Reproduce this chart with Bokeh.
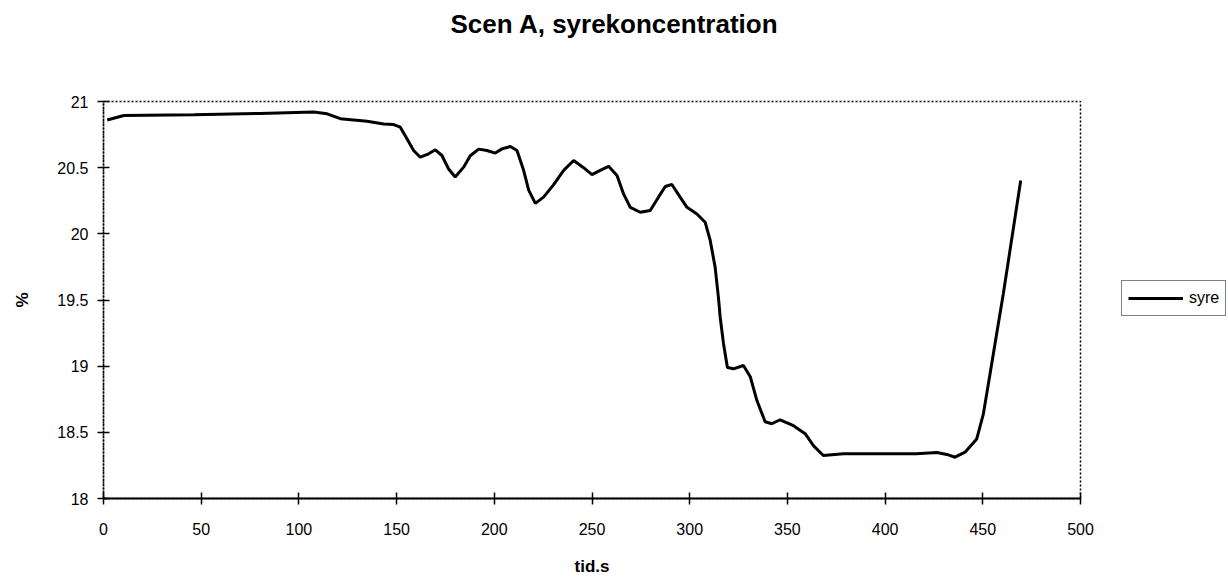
from bokeh.plotting import figure
from bokeh.models import Legend, LegendItem, Range1d, FixedTicker, Title
from bokeh.layouts import row
from bokeh.embed import file_html
from bokeh.resources import INLINE

# Data (time in s, O2 concentration in %)
tid = [1.9, 10.4, 46.2, 80, 107.6, 114.4, 121.2, 134.9, 143.4, 148.5, 151.9, 155.3, 158.7,
       162.1, 166.4, 169.8, 173.2, 176.6, 180.0, 184.3, 187.7, 192.0, 196.2, 200.5, 203.9,
       208.2, 211.6, 215.0, 217.6, 221.0, 225.2, 230.3, 235.5, 240.6, 245.7, 250.0, 254.2,
       258.5, 262.8, 266.2, 269.6, 274.7, 279.8, 284.0, 287.5, 290.9, 295.1, 298.6, 303.7,
       307.9, 310.5, 313.0, 314.7, 315.6, 317.3, 319.3, 322.4, 327.5, 331.0, 334.4, 338.6,
       342.0, 346.3, 353.1, 359.1, 363.3, 368.4, 378.7, 399.0, 416.0, 426.5, 431.6, 435.8,
       440.9, 446.9, 450.3, 453.7, 457.1, 460.5, 463.9, 469.4]
syre = [20.86, 20.894, 20.90, 20.91, 20.92, 20.907, 20.87, 20.85, 20.83, 20.826, 20.806, 20.718, 20.63,
        20.579, 20.605, 20.635, 20.592, 20.49, 20.43, 20.504, 20.59, 20.64, 20.63, 20.61, 20.642,
        20.66, 20.63, 20.48, 20.33, 20.23, 20.277, 20.37, 20.48, 20.554, 20.50, 20.448, 20.48,
        20.51, 20.44, 20.30, 20.20, 20.163, 20.176, 20.277, 20.358, 20.373, 20.277, 20.20, 20.15,
        20.088, 19.95, 19.75, 19.52, 19.37, 19.17, 18.99, 18.98, 19.005, 18.92, 18.74, 18.58,
        18.565, 18.595, 18.55, 18.49, 18.40, 18.325, 18.338, 18.338, 18.338, 18.347, 18.333, 18.312,
        18.35, 18.45, 18.64, 18.94, 19.245, 19.547, 19.874, 20.403]

x_ticks = [0, 50, 100, 150, 200, 250, 300, 350, 400, 450, 500]
y_ticks = [18, 18.5, 19, 19.5, 20, 20.5, 21]

FONT = "Liberation Sans"

p = figure(width=1110, height=578, output_backend="svg", toolbar_location=None,
           x_range=Range1d(0, 500), y_range=Range1d(18, 21),
           min_border_left=103, min_border_right=30, min_border_top=101, min_border_bottom=80)

# two trailing empty lines lift the title towards the top of the page
p.title = Title(text="Scen A, syrekoncentration\n\n", align="left", vertical_align="top",
                text_font=FONT, text_font_size="26px", text_font_style="bold", text_color="black",
                offset=347, standoff=2)

r = p.line(tid, syre, line_color="black", line_width=3)

p.xgrid.visible = False
p.ygrid.visible = False
p.background_fill_color = "white"
p.border_fill_color = "white"
p.outline_line_color = "black"
p.outline_line_dash = "2 2"
p.outline_line_width = 1.5

p.xaxis.ticker = FixedTicker(ticks=x_ticks)
p.yaxis.ticker = FixedTicker(ticks=y_ticks)
p.xaxis.minor_tick_line_color = None
p.yaxis.minor_tick_line_color = None

for ax in (p.xaxis[0], p.yaxis[0]):
    ax.major_tick_in = 6
    ax.major_tick_out = 6
    ax.major_tick_line_color = "black"
    ax.major_tick_line_width = 1.5
    ax.major_label_text_font = FONT
    ax.major_label_text_font_size = "16px"
    ax.major_label_text_color = "black"
    ax.axis_label_text_font = FONT
    ax.axis_label_text_font_size = "17px"
    ax.axis_label_text_font_style = "bold"
    ax.axis_label_text_color = "black"

p.xaxis.axis_label = "tid.s"
p.xaxis.axis_line_color = "black"
p.xaxis.axis_line_width = 2
p.xaxis.major_label_standoff = 18
p.xaxis.axis_label_standoff = 19

p.yaxis.axis_label = "%"
p.yaxis.axis_line_color = "black"
p.yaxis.axis_line_dash = "2 1"
p.yaxis.axis_line_width = 1.5
p.yaxis.major_label_standoff = 9
p.yaxis.axis_label_standoff = 22

# Legend panel to the right of the chart (its frame aligns with the chart's frame)
lg = figure(width=118, height=578, output_backend="svg", toolbar_location=None,
            x_range=Range1d(0, 1), y_range=Range1d(0, 1),
            min_border=0, min_border_left=0, min_border_right=0, min_border_top=0, min_border_bottom=0)
lg.axis.visible = False
lg.grid.visible = False
lg.outline_line_color = None
lg.background_fill_color = "white"
lg.border_fill_color = "white"
dummy = lg.line([5, 6], [5, 6], line_color="black", line_width=3)

legend = Legend(items=[LegendItem(label="syre", renderers=[dummy])],
                location=(11, 182), orientation="vertical",
                label_text_font=FONT, label_text_font_size="16px", label_text_color="black",
                glyph_width=55, glyph_height=22, label_standoff=6,
                padding=6, spacing=0, margin=0,
                border_line_color="black", border_line_width=1.5,
                background_fill_color="white", background_fill_alpha=1.0)
lg.add_layout(legend, "center")

layout = row(p, lg, spacing=0)
open("out.html", "w").write(file_html(layout, INLINE))
